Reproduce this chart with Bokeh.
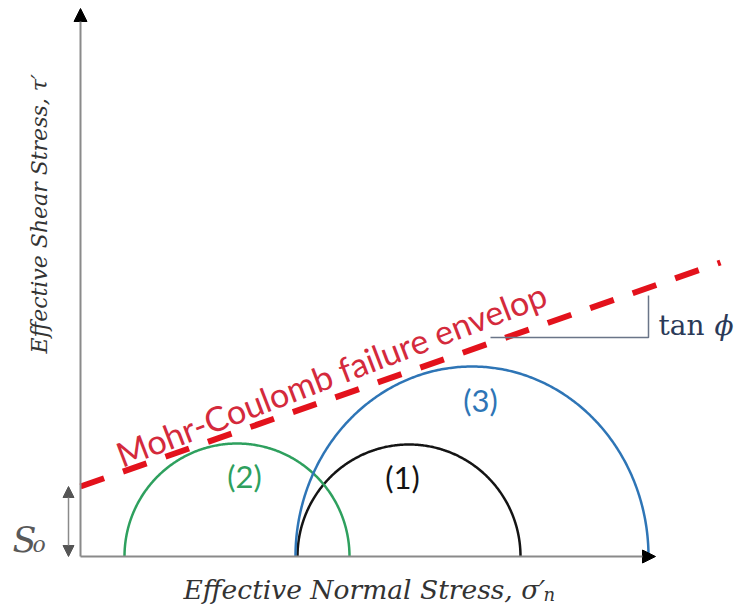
import numpy as np
from bokeh.plotting import figure
from bokeh.models import Arrow, NormalHead
from bokeh.core.properties import value
from bokeh.embed import file_html
from bokeh.resources import INLINE

# ---- data (units: stress, arbitrary) ----
circle_labels = ["(1)", "(2)", "(3)"]
circle_centers = [328.5, 156.5, 391.5]
circle_radii = [111.5, 112.5, 176.5]
circle_heights = [112.0, 113.0, 190.0]
circle_colors = ["#141414", "#2ea05e", "#2e75b6"]
label_x = [322, 164, 400]
label_y = [80, 81, 157]

cohesion = 70.0          # S_o
friction_slope = 0.35    # tan(phi)
envelope_x = [0.0, 640.0]

tan_guide_x = [410.0, 568.0, 568.0]
tan_guide_y = [219.0, 219.0, 261.0]

x_axis_end = 575.0
y_axis_end = 548.0

p = figure(width=743, height=608, x_range=(-80, 663), y_range=(-52, 556),
           output_backend="svg", toolbar_location=None, min_border=0)
p.axis.visible = False
p.grid.visible = False
p.outline_line_color = None

# axes with arrows
p.add_layout(Arrow(end=NormalHead(size=13, fill_color="black", line_color="black"),
                   x_start=0, y_start=0, x_end=0, y_end=y_axis_end,
                   line_color="#8a8a8a", line_width=2))
p.add_layout(Arrow(end=NormalHead(size=13, fill_color="black", line_color="black"),
                   x_start=0, y_start=0, x_end=x_axis_end, y_end=0,
                   line_color="#8a8a8a", line_width=2))

# Mohr circles
theta = np.linspace(0, np.pi, 300)
for c, r, h, col in zip(circle_centers, circle_radii, circle_heights, circle_colors):
    p.line(c + r * np.cos(theta), h * np.sin(theta), line_color=col, line_width=2.5)

p.text(x=label_x, y=label_y, text=circle_labels, text_color=circle_colors,
       text_font=value("Lato"), text_font_size="31px",
       text_align="center", text_baseline="middle")

# failure envelope
env_y = [cohesion + friction_slope * x for x in envelope_x]
p.line(envelope_x, env_y, line_color="#e3121c", line_width=6, line_dash="25 20",
       line_cap="butt")
p.text(x=[37], y=[101], text=["Mohr-Coulomb failure envelop"], angle=0.365,
       text_color="#d42a3c", text_font=value("Lato"), text_font_size="34px",
       text_align="left", text_baseline="alphabetic")

# tan phi guide
p.line(tan_guide_x, tan_guide_y, line_color="#6a7588", line_width=1.5)
p.text(x=[578], y=[231], text=["tan"], text_color="#2b3a58",
       text_font=value("DejaVu Serif"), text_font_size="28px",
       text_align="left", text_baseline="alphabetic")
p.text(x=[634], y=[231], text=["ϕ"], text_color="#2b3a58",
       text_font=value("DejaVu Serif"), text_font_style="italic", text_font_size="28px",
       text_align="left", text_baseline="alphabetic")

# S_o arrow
p.add_layout(Arrow(start=NormalHead(size=11, fill_color="#555555", line_color="#555555"),
                   end=NormalHead(size=11, fill_color="#555555", line_color="#555555"),
                   x_start=-12, y_start=0, x_end=-12, y_end=cohesion,
                   line_color="#8a8a8a", line_width=1.5))
p.text(x=[-68], y=[17], text=["S"], text_color="#595959",
       text_font=value("DejaVu Serif"), text_font_style="italic", text_font_size="35px",
       text_align="left", text_baseline="alphabetic")
p.text(x=[-48], y=[12], text=["o"], text_color="#595959",
       text_font=value("DejaVu Serif"), text_font_style="italic", text_font_size="22px",
       text_align="left", text_baseline="alphabetic")

# axis titles
p.text(x=[103], y=[-33], text=["Effective Normal Stress, σ′"], text_color="#333333",
       text_font=value("DejaVu Serif"), text_font_style="italic", text_font_size="26.5px",
       text_align="left", text_baseline="alphabetic")
p.text(x=[463], y=[-38], text=["n"], text_color="#333333",
       text_font=value("DejaVu Serif"), text_font_style="italic", text_font_size="18px",
       text_align="left", text_baseline="alphabetic")
p.text(x=[-41], y=[203], text=["Effective Shear Stress, τ′"], angle=np.pi / 2,
       text_color="#333333", text_font=value("DejaVu Serif"), text_font_style="italic",
       text_font_size="22px", text_align="left", text_baseline="alphabetic")

open("out.html", "w").write(file_html(p, INLINE))
